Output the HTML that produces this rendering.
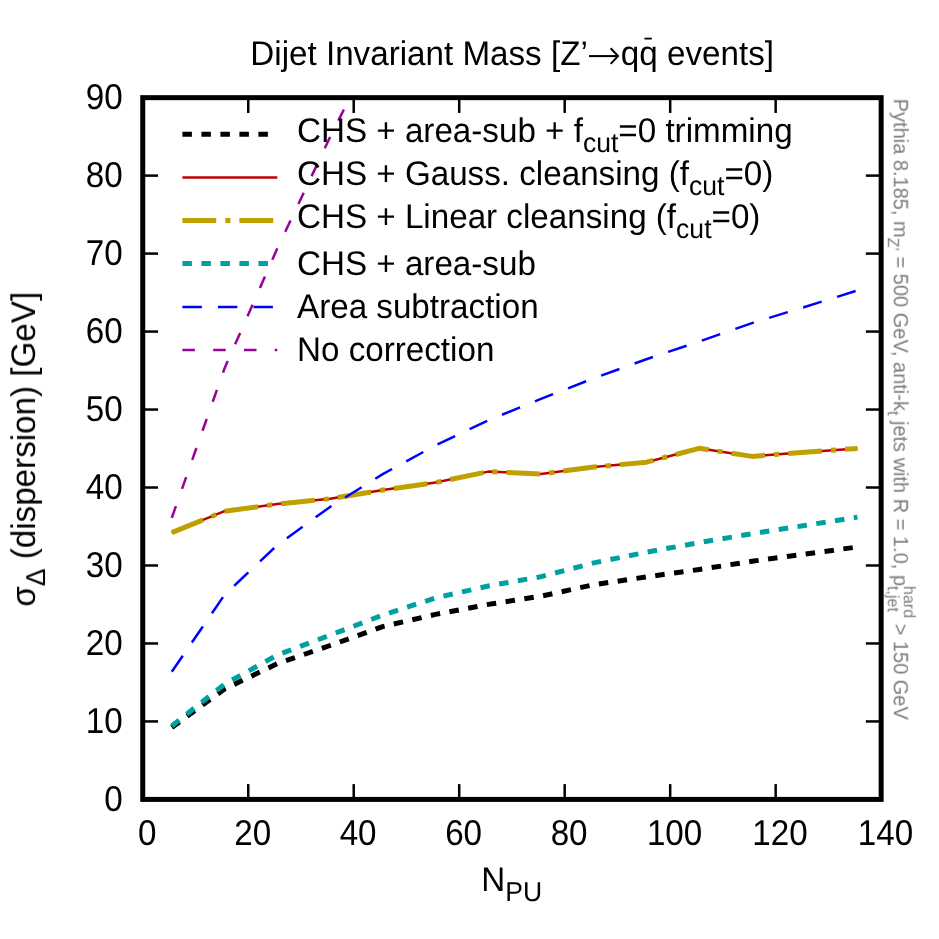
<!DOCTYPE html>
<html><head><meta charset="utf-8"><title>Dijet Invariant Mass</title>
<style>html,body{margin:0;padding:0;background:#fff}body{width:939px;height:939px;overflow:hidden}svg{display:block}text{font-family:"Liberation Sans",sans-serif;fill:#000;text-rendering:geometricPrecision}</style>
</head><body>
<svg width="939" height="939" viewBox="0 0 939 939">
<rect x="0" y="0" width="939" height="939" fill="#fff"/>
<g fill="none" stroke-linecap="butt" stroke-linejoin="round">
<polyline points="171.76,727.50 224.50,689.00 277.24,663.70 329.99,645.50 382.73,626.60 435.47,614.40 488.22,604.40 540.96,596.20 593.70,584.70 646.44,576.90 699.19,569.50 751.93,561.30 804.67,554.10 857.42,547.00" stroke="#000" stroke-width="5" stroke-dasharray="9.5 9.5"/>
<polyline points="171.76,532.60 224.50,511.20 277.24,504.10 329.99,498.75 382.73,490.00 435.47,482.55 488.22,471.60 540.96,474.05 593.70,467.00 646.44,462.20 699.19,448.30 751.93,456.40 804.67,452.20 857.42,448.50" stroke="#c00000" stroke-width="2.5"/>
<polyline points="171.76,532.60 224.50,511.20 277.24,504.10 329.99,498.75 382.73,490.00 435.47,482.55 488.22,471.60 540.96,474.05 593.70,467.00 646.44,462.20 699.19,448.30 751.93,456.40 804.67,452.20 857.42,448.50" stroke="#c0a000" stroke-width="5" stroke-dasharray="33.8 9.1 5.1 9"/>
<polyline points="171.76,726.00 224.50,684.20 277.24,655.10 329.99,635.20 382.73,615.10 435.47,597.90 488.22,586.00 540.96,576.70 593.70,562.90 646.44,552.20 699.19,542.60 751.93,533.70 804.67,525.50 857.42,517.10" stroke="#00a0a0" stroke-width="5" stroke-dasharray="9.5 9.5"/>
<polyline points="171.76,671.80 224.50,594.90 277.24,545.10 329.99,507.00 382.73,474.10 435.47,445.40 488.22,420.40 540.96,398.90 593.70,378.30 646.44,359.20 699.19,341.50 751.93,323.10 804.67,307.00 857.42,290.50" stroke="#0000ff" stroke-width="2.5" stroke-dasharray="19.45 16.08"/>
<polyline points="171.76,517.90 224.50,368.50 277.24,248.60 329.99,137.30 349.81,97.65" stroke="#990099" stroke-width="2.5" stroke-dasharray="12.5 18.3"/>
<line x1="182.4" y1="134.2" x2="277.3" y2="134.2" stroke="#000" stroke-width="5" stroke-dasharray="9.5 9.5"/>
<line x1="182.4" y1="177.4" x2="277.3" y2="177.4" stroke="#c00000" stroke-width="2.5"/>
<line x1="182.4" y1="220.5" x2="277.3" y2="220.5" stroke="#c0a000" stroke-width="5" stroke-dasharray="33.8 9.1 5.1 9"/>
<line x1="182.4" y1="263.5" x2="277.3" y2="263.5" stroke="#00a0a0" stroke-width="5" stroke-dasharray="9.5 9.5"/>
<line x1="182.4" y1="306.9" x2="277.3" y2="306.9" stroke="#0000ff" stroke-width="2.5" stroke-dasharray="19.45 16.08"/>
<line x1="182.4" y1="350.1" x2="277.3" y2="350.1" stroke="#990099" stroke-width="2.5" stroke-dasharray="12.5 18.3"/>
</g>
<g stroke="#000" stroke-width="2.5" fill="none">
<line x1="142.75" y1="721.43" x2="158.05" y2="721.43"/>
<line x1="881.15" y1="721.43" x2="865.85" y2="721.43"/>
<line x1="142.75" y1="643.46" x2="158.05" y2="643.46"/>
<line x1="881.15" y1="643.46" x2="865.85" y2="643.46"/>
<line x1="142.75" y1="565.48" x2="158.05" y2="565.48"/>
<line x1="881.15" y1="565.48" x2="865.85" y2="565.48"/>
<line x1="142.75" y1="487.51" x2="158.05" y2="487.51"/>
<line x1="881.15" y1="487.51" x2="865.85" y2="487.51"/>
<line x1="142.75" y1="409.54" x2="158.05" y2="409.54"/>
<line x1="881.15" y1="409.54" x2="865.85" y2="409.54"/>
<line x1="142.75" y1="331.57" x2="158.05" y2="331.57"/>
<line x1="881.15" y1="331.57" x2="865.85" y2="331.57"/>
<line x1="142.75" y1="253.59" x2="158.05" y2="253.59"/>
<line x1="881.15" y1="253.59" x2="865.85" y2="253.59"/>
<line x1="142.75" y1="175.62" x2="158.05" y2="175.62"/>
<line x1="881.15" y1="175.62" x2="865.85" y2="175.62"/>
<line x1="248.24" y1="799.40" x2="248.24" y2="784.10"/>
<line x1="248.24" y1="97.65" x2="248.24" y2="112.95"/>
<line x1="353.72" y1="799.40" x2="353.72" y2="784.10"/>
<line x1="353.72" y1="97.65" x2="353.72" y2="112.95"/>
<line x1="459.21" y1="799.40" x2="459.21" y2="784.10"/>
<line x1="459.21" y1="97.65" x2="459.21" y2="112.95"/>
<line x1="564.69" y1="799.40" x2="564.69" y2="784.10"/>
<line x1="564.69" y1="97.65" x2="564.69" y2="112.95"/>
<line x1="670.18" y1="799.40" x2="670.18" y2="784.10"/>
<line x1="670.18" y1="97.65" x2="670.18" y2="112.95"/>
<line x1="775.66" y1="799.40" x2="775.66" y2="784.10"/>
<line x1="775.66" y1="97.65" x2="775.66" y2="112.95"/>
</g>
<rect x="142.75" y="97.65" width="738.40" height="701.75" fill="none" stroke="#000" stroke-width="5" stroke-linejoin="miter"/>
<g id="alltext" opacity="0.999">
<text id="yt0" transform="translate(122.70 811.00) scale(1 1.08)" font-size="33.2" text-anchor="end">0</text>
<text id="yt1" transform="translate(122.70 733.03) scale(1 1.08)" font-size="33.2" text-anchor="end">10</text>
<text id="yt2" transform="translate(122.70 655.06) scale(1 1.08)" font-size="33.2" text-anchor="end">20</text>
<text id="yt3" transform="translate(122.70 577.08) scale(1 1.08)" font-size="33.2" text-anchor="end">30</text>
<text id="yt4" transform="translate(122.70 499.11) scale(1 1.08)" font-size="33.2" text-anchor="end">40</text>
<text id="yt5" transform="translate(122.70 421.14) scale(1 1.08)" font-size="33.2" text-anchor="end">50</text>
<text id="yt6" transform="translate(122.70 343.17) scale(1 1.08)" font-size="33.2" text-anchor="end">60</text>
<text id="yt7" transform="translate(122.70 265.19) scale(1 1.08)" font-size="33.2" text-anchor="end">70</text>
<text id="yt8" transform="translate(122.70 187.22) scale(1 1.08)" font-size="33.2" text-anchor="end">80</text>
<text id="yt9" transform="translate(122.70 109.25) scale(1 1.08)" font-size="33.2" text-anchor="end">90</text>
<text id="xt0" transform="translate(147.15 845.00) scale(1 1.08)" font-size="33.2" text-anchor="middle">0</text>
<text id="xt1" transform="translate(252.64 845.00) scale(1 1.08)" font-size="33.2" text-anchor="middle">20</text>
<text id="xt2" transform="translate(358.12 845.00) scale(1 1.08)" font-size="33.2" text-anchor="middle">40</text>
<text id="xt3" transform="translate(463.61 845.00) scale(1 1.08)" font-size="33.2" text-anchor="middle">60</text>
<text id="xt4" transform="translate(569.09 845.00) scale(1 1.08)" font-size="33.2" text-anchor="middle">80</text>
<text id="xt5" transform="translate(674.58 845.00) scale(1 1.08)" font-size="33.2" text-anchor="middle">100</text>
<text id="xt6" transform="translate(780.06 845.00) scale(1 1.08)" font-size="33.2" text-anchor="middle">120</text>
<text id="xt7" transform="translate(885.55 845.00) scale(1 1.08)" font-size="33.2" text-anchor="middle">140</text>
<text id="title" transform="translate(250.30 64.80) scale(1 1.03)" font-size="33.2">Dijet Invariant Mass [Z’<tspan id="tq" dx="33.0">qq</tspan> events]</text>
<text id="xlabel" transform="translate(481.20 890.50) scale(1 1.03)" font-size="33.2">N<tspan font-size="26.560000000000002" dy="9.831067961165049">PU</tspan></text>
<text id="ylabel" transform="translate(34.90 606.70) rotate(-90) scale(1 1.03)" font-size="33.2">σ<tspan font-size="26.560000000000002" dy="9.831067961165049">Δ</tspan><tspan dy="-9.831067961165049"> (dispersion) [GeV]</tspan></text>
<text id="l1" transform="translate(297.00 141.70) scale(1 1.03)" font-size="33.2">CHS + area-sub + f<tspan font-size="26.560000000000002" dy="9.831067961165049">cut</tspan><tspan dy="-9.831067961165049">=0 trimming</tspan></text>
<text id="l2" transform="translate(297.00 185.00) scale(1 1.03)" font-size="33.2">CHS + Gauss. cleansing (f<tspan font-size="26.560000000000002" dy="9.831067961165049">cut</tspan><tspan dy="-9.831067961165049">=0)</tspan></text>
<text id="l3" transform="translate(297.00 228.20) scale(1 1.03)" font-size="33.2">CHS + Linear cleansing (f<tspan font-size="26.560000000000002" dy="9.831067961165049">cut</tspan><tspan dy="-9.831067961165049">=0)</tspan></text>
<text id="l4" transform="translate(297.00 274.70) scale(1 1.03)" font-size="33.2">CHS + area-sub</text>
<text id="l5" transform="translate(297.00 318.00) scale(1 1.03)" font-size="33.2">Area subtraction</text>
<text id="l6" transform="translate(297.00 360.60) scale(1 1.03)" font-size="33.2">No correction</text>
<text id="glabel" transform="translate(894.10 98.70) rotate(90) scale(1 1.03)" font-size="20.0" style="fill:#7c7c7c">Pythia 8.185, m<tspan font-size="16.0" dy="5.922330097087378">Z’</tspan><tspan dy="-5.922330097087378"> = 500 GeV, anti-k</tspan><tspan font-size="16.0" dy="5.922330097087378">t</tspan><tspan dy="-5.922330097087378"> jets with R = 1.0, p</tspan><tspan id="gsub" font-size="16.0" dy="5.922330097087378">t,jet</tspan><tspan id="gsup" font-size="16.0" dy="-15.63106796116505" dx="-25.792">hard</tspan><tspan dy="9.70873786407767"> &gt; 150 GeV</tspan></text>
</g>
<g id="arrow" stroke="#000" fill="none" stroke-width="2.05" stroke-linecap="butt" stroke-linejoin="miter"><path d="M589 56.1H617.6"/><path d="M610.7 48.3L618 56.1L610.7 63.9"/></g>
<rect id="qbar" x="644.4" y="37.7" width="7.4" height="1.8" fill="#000"/>
</svg></body></html>
